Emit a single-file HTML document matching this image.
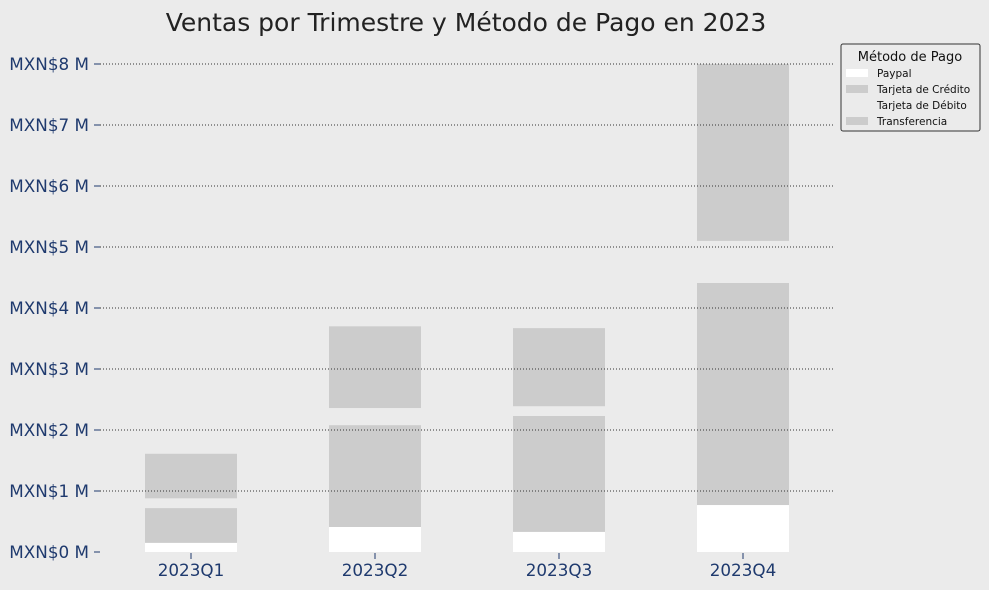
<!DOCTYPE html>
<html><head><meta charset="utf-8"><style>
body{margin:0;background:#EBEBEB;}
svg{display:block;font-family:"DejaVu Sans","Liberation Sans",sans-serif;}
</style></head><body>
<svg id="c" width="989" height="590">
<rect width="989" height="590" fill="#EBEBEB"/>
<text x="466" y="31" text-anchor="middle" font-size="25" fill="#222">Ventas por Trimestre y Método de Pago en 2023</text>
<g id="bars"></g><g id="grid"></g><g id="axes"></g>
<g>
<rect x="841" y="44" width="139" height="87" fill="#EBEBEB" stroke="#333" rx="2"/>
<text x="910" y="61" text-anchor="middle" font-size="13" fill="#111">Método de Pago</text>
<g id="leg"></g>
</g>
</svg>
<script>
const categories=["2023Q1","2023Q2","2023Q3","2023Q4"];
const seriesNames=["Paypal","Tarjeta de Crédito","Tarjeta de Débito","Transferencia"];
const paypal=[0.15,0.41,0.33,0.77];
const credito=[0.57,1.67,1.90,3.64];
const debito=[0.16,0.28,0.16,0.69];
const transferencia=[0.73,1.34,1.28,2.90];
const yTicks=[0,1,2,3,4,5,6,7,8];
const tickLabels=["MXN$0 M","MXN$1 M","MXN$2 M","MXN$3 M","MXN$4 M","MXN$5 M","MXN$6 M","MXN$7 M","MXN$8 M"];
const colors=["#FFFFFF","#CCCCCC","#EBEBEB","#CCCCCC"];
const NS="http://www.w3.org/2000/svg";
const y=v=>552-v*61;
const x=i=>191+i*184;
const bw=92;
function mk(t,a,p){const e=document.createElementNS(NS,t);for(const k in a)e.setAttribute(k,a[k]);p.appendChild(e);return e;}
const grid=document.getElementById('grid'),axes=document.getElementById('axes'),bars=document.getElementById('bars'),leg=document.getElementById('leg');
yTicks.forEach((v,i)=>{
 if(v>0){const g=mk('line',{x1:100,x2:834,y1:y(v),y2:y(v),stroke:'#333','stroke-dasharray':'1,2','stroke-width':1},grid);
 
 }
 mk('line',{x1:94,x2:100,y1:y(v),y2:y(v),stroke:'#1f3a6e'},axes);
 const t=mk('text',{x:89,y:y(v)+6,'text-anchor':'end','font-size':16.8,fill:'#1f3a6e'},axes);t.textContent=tickLabels[i];
 
 
});
const series=[paypal,credito,debito,transferencia];
categories.forEach((c,i)=>{
 let base=0;
 series.forEach((s,k)=>{
  const r=mk('rect',{x:x(i)-bw/2,y:y(base+s[i]),width:bw,height:s[i]*61,fill:colors[k]},bars);
  
  
  base+=s[i];
 });
 mk('line',{x1:x(i),x2:x(i),y1:553,y2:559,stroke:'#1f3a6e'},axes);
 const t=mk('text',{x:x(i),y:576,'text-anchor':'middle','font-size':16.8,fill:'#1f3a6e'},axes);t.textContent=c;
 
 
});
seriesNames.forEach((n,k)=>{
 const yy=73+k*16;
 mk('rect',{x:846,y:yy-4,width:22,height:8,fill:colors[k]},leg);
 const t=mk('text',{x:877,y:yy+4,'font-size':10.5,fill:'#111'},leg);t.textContent=n;
 
 
});
</script>
</body></html>
